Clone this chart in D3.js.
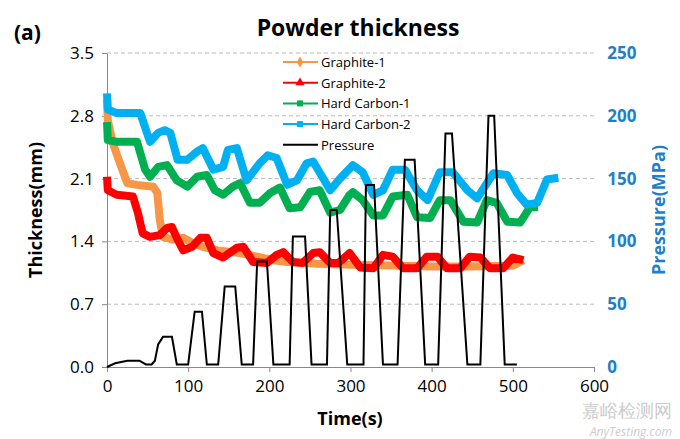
<!DOCTYPE html>
<html><head><meta charset="utf-8">
<script src="https://cdn.jsdelivr.net/npm/d3@7"></script>
<style>body{margin:0;background:#fff}text{font-family:"Open Sans","Noto Sans",sans-serif}</style>
</head><body><svg id="c" width="680" height="439"></svg>
<script>
// [time s, thickness mm]
var graphite1 = [[0,2.98],[1,2.75],[7,2.50],[16,2.27],[25,2.05],[37,2.03],[57,2.01],[62,1.94],[65,1.64],[69,1.45],[81,1.42],[94,1.44],[106,1.38],[118,1.34],[136,1.30],[164,1.27],[185,1.23],[205,1.19],[222,1.17],[260,1.15],[300,1.14],[350,1.13],[400,1.12],[450,1.12],[500,1.13],[513,1.19]];
var graphite2 = [[0,2.12],[1,1.97],[12,1.92],[32,1.90],[38,1.72],[44,1.49],[53,1.45],[65,1.47],[74,1.55],[80,1.56],[87,1.42],[94,1.30],[105,1.34],[115,1.44],[123,1.44],[131,1.27],[143,1.22],[160,1.33],[168,1.34],[180,1.17],[197,1.16],[209,1.25],[217,1.28],[229,1.17],[241,1.16],[254,1.27],[262,1.28],[275,1.16],[285,1.16],[299,1.27],[312,1.11],[328,1.10],[340,1.25],[352,1.23],[365,1.10],[382,1.10],[394,1.23],[407,1.23],[419,1.10],[435,1.10],[447,1.23],[460,1.22],[472,1.10],[488,1.10],[500,1.22],[513,1.19]];
var hardCarbon1 = [[0,2.73],[1,2.53],[12,2.51],[37,2.51],[47,2.20],[53,2.12],[63,2.23],[74,2.25],[86,2.08],[99,2.01],[111,2.12],[123,2.14],[133,1.97],[143,1.92],[155,2.01],[164,2.05],[176,1.83],[188,1.83],[201,1.94],[213,2.00],[225,1.77],[238,1.78],[250,1.95],[262,1.97],[275,1.72],[287,1.75],[299,1.92],[303,1.95],[315,1.86],[328,1.69],[340,1.69],[352,1.90],[370,1.92],[382,1.67],[398,1.66],[410,1.86],[423,1.86],[439,1.62],[456,1.61],[468,1.86],[480,1.83],[493,1.62],[509,1.61],[521,1.78],[531,1.78]];
var hardCarbon2 = [[0,3.05],[1,2.87],[12,2.83],[41,2.83],[53,2.51],[63,2.61],[71,2.64],[78,2.61],[87,2.31],[99,2.31],[111,2.40],[118,2.44],[131,2.20],[143,2.23],[149,2.42],[160,2.44],[172,2.08],[188,2.27],[198,2.36],[209,2.33],[222,2.03],[234,2.08],[246,2.27],[254,2.29],[275,1.97],[287,2.10],[303,2.25],[315,2.17],[328,1.92],[340,1.97],[352,2.20],[367,2.20],[382,1.97],[395,1.86],[410,2.17],[426,2.17],[444,1.97],[456,1.88],[476,2.16],[493,2.14],[505,1.94],[517,1.81],[530,1.83],[542,2.09],[556,2.11]];
// [time s, pressure MPa]
var pressure = [[0,0],[10,3],[25,5],[40,5],[48,2],[55,2],[59,5],[63,18],[69,24],[80,24],[86,2],[100,2],[108,44],[117,44],[123,2],[137,2],[145,64],[158,64],[166,2],[180,2],[185,84],[197,84],[205,2],[225,2],[229,104],[244,104],[252,2],[271,2],[275,125],[283,125],[296,2],[316,2],[319,145],[329,145],[340,2],[358,2],[367,165],[379,165],[392,2],[408,2],[417,186],[425,186],[444,2],[460,2],[470,200],[477,200],[490,2],[505,2]];
var xTicks = [0,100,200,300,400,500,600];
var yTicks = [0,0.7,1.4,2.1,2.8,3.5];
var pTicks = [0,50,100,150,200,250];
var series = [
  {name:'Graphite-1', data:graphite1, color:'#F79646', sym:d3.symbolDiamond},
  {name:'Graphite-2', data:graphite2, color:'#FF0000', sym:d3.symbolTriangle},
  {name:'Hard Carbon-1', data:hardCarbon1, color:'#00B050', sym:d3.symbolSquare},
  {name:'Hard Carbon-2', data:hardCarbon2, color:'#00B0F0', sym:d3.symbolSquare}
];

var svg = d3.select('#c');
var x = d3.scaleLinear().domain([0,600]).range([107,594]);
var y = d3.scaleLinear().domain([0,3.5]).range([367,53]);
var yp = d3.scaleLinear().domain([0,250]).range([367,53]);
var blue = '#1F7FC8';

svg.append('g').selectAll('line').data(yTicks.slice(1)).enter().append('line')
  .attr('x1',107).attr('x2',594).attr('y1',d=>y(d)).attr('y2',d=>y(d))
  .attr('stroke','#bbb').attr('stroke-dasharray','4,3');

function styleAxis(g){ g.select('.domain').attr('stroke','#888'); g.selectAll('.tick line').attr('stroke','#888'); g.selectAll('text').attr('font-size',17); }
svg.append('g').attr('transform','translate(0,367)')
  .call(d3.axisBottom(x).tickValues(xTicks).tickSize(5).tickSizeOuter(0)).call(styleAxis)
  .selectAll('text').attr('fill','#000').attr('dy','1em');
svg.append('g').attr('transform','translate(107,0)')
  .call(d3.axisLeft(y).tickValues(yTicks).tickFormat(d3.format('.1f')).tickSize(5).tickSizeOuter(0)).call(styleAxis)
  .selectAll('text').attr('fill','#000').attr('dx','-0.3em');
svg.append('g').attr('transform','translate(594,0)')
  .call(d3.axisRight(yp).tickValues(pTicks).tickSize(0).tickSizeOuter(0)).call(styleAxis)
  .call(g=>g.select('.domain').remove())
  .selectAll('text').attr('fill',blue).attr('font-weight','bold').attr('dx','0.6em');

var line = d3.line().x(d=>x(d[0])).y(d=>y(d[1]));
series.forEach(function(s){
  svg.append('path').datum(s.data).attr('d',line).attr('fill','none')
    .attr('stroke',s.color).attr('stroke-width',8).attr('stroke-linejoin','round');
});
svg.append('path').datum(pressure)
  .attr('d',d3.line().x(d=>x(d[0])).y(d=>yp(d[1])))
  .attr('fill','none').attr('stroke','#000').attr('stroke-width',2);

// legend
var lg = svg.append('g');
series.concat([{name:'Pressure',color:'#000'}]).forEach(function(s,i){
  var yy = 62 + i*20.7;
  lg.append('line').attr('x1',283).attr('x2',318).attr('y1',yy).attr('y2',yy)
    .attr('stroke',s.color).attr('stroke-width',2);
  if (s.sym) lg.append('path').attr('d',d3.symbol().type(s.sym).size(36)())
    .attr('transform','translate(300,'+yy+')').attr('fill',s.color);
  lg.append('text').attr('x',321).attr('y',yy+5).attr('font-size',13).text(s.name);
});

svg.append('text').attr('x',358).attr('y',36).attr('text-anchor','middle')
  .attr('font-size',23).attr('font-weight','bold').text('Powder thickness');
svg.append('text').attr('x',14).attr('y',40).attr('font-size',21).attr('font-weight','bold').text('(a)');
svg.append('text').attr('x',350).attr('y',425).attr('text-anchor','middle')
  .attr('font-size',18).attr('font-weight','bold').text('Time(s)');
svg.append('text').attr('transform','translate(42,210) rotate(-90)').attr('text-anchor','middle')
  .attr('font-size',18).attr('font-weight','bold').text('Thickness(mm)');
svg.append('text').attr('transform','translate(665,210) rotate(-90)').attr('text-anchor','middle')
  .attr('font-size',18).attr('font-weight','bold').attr('fill',blue).text('Pressure(MPa)');
svg.append('text').attr('x',672).attr('y',417).attr('text-anchor','end').attr('font-size',18)
  .attr('fill','#ccc').attr('font-family','Noto Sans CJK SC').text('嘉峪检测网');
svg.append('text').attr('x',672).attr('y',436).attr('text-anchor','end').attr('font-size',12)
  .attr('fill','#ccc').attr('font-style','italic').text('AnyTesting.com');
</script></body></html>
